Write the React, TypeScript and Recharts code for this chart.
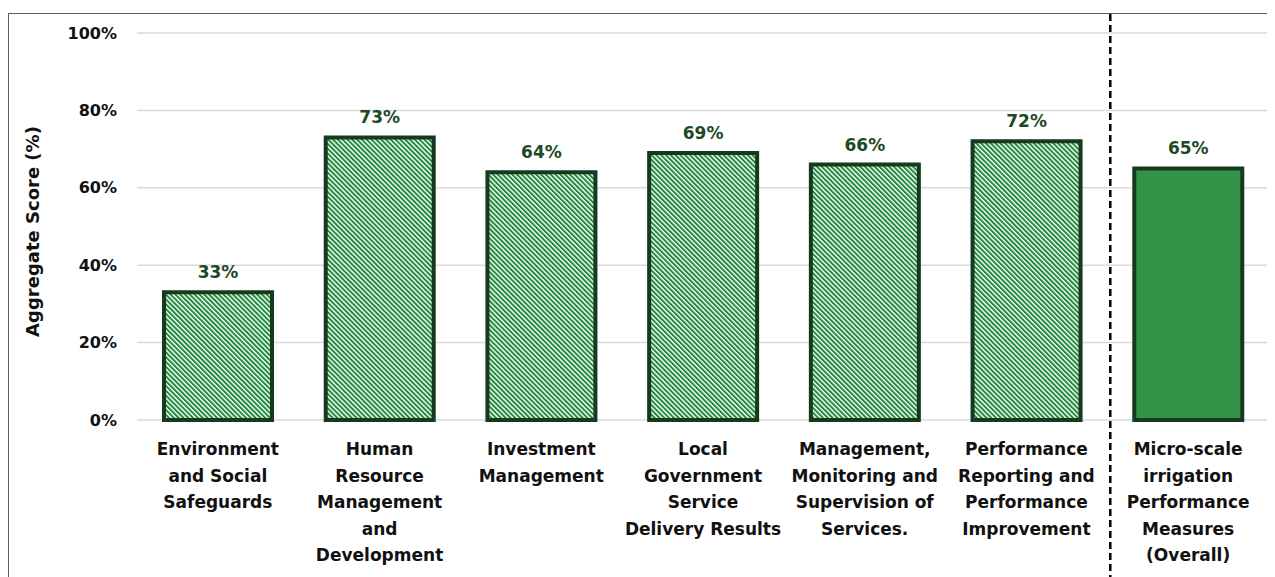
import React from 'react';
import { BarChart, Bar, XAxis, YAxis, CartesianGrid, Cell, LabelList, ReferenceLine } from 'recharts';

const categories = [
  'Environment\nand Social\nSafeguards',
  'Human\nResource\nManagement\nand\nDevelopment',
  'Investment\nManagement',
  'Local\nGovernment\nService\nDelivery Results',
  'Management,\nMonitoring and\nSupervision of\nServices.',
  'Performance\nReporting and\nPerformance\nImprovement',
  'Micro-scale\nirrigation\nPerformance\nMeasures\n(Overall)',
];
const scores = [33, 73, 64, 69, 66, 72, 65];
const yTicks = [0, 20, 40, 60, 80, 100];

const chartData = categories.map((name, i) => ({ name, score: scores[i] }));
const overallName = categories[categories.length - 1];

const XTick = (props: any) => {
  const { x, y, payload } = props;
  const lines = String(payload.value).split('\n');
  return (
    <text x={x} y={y} textAnchor="middle" fill="#111" fontSize={17} fontWeight="bold">
      {lines.map((ln, i) => (
        <tspan key={i} x={x} dy={i === 0 ? 35 : 26.5}>{ln}</tspan>
      ))}
    </text>
  );
};

const YTitle = (props: any) => {
  const vb = props.viewBox || { x: 0, y: 19, width: 128, height: 387 };
  const cx = vb.x + 23;
  const cy = vb.y + vb.height / 2 + 5;
  return (
    <text x={cx} y={cy} transform={`rotate(-90, ${cx}, ${cy})`} textAnchor="middle"
      dominantBaseline="central" fill="#111" fontSize={18} fontWeight="bold">
      Aggregate Score (%)
    </text>
  );
};

// dashed separator before the overall bar, stretched to the frame top and chart bottom
const Divider = (props: any) => {
  const { x1, y1, y2 } = props;
  const top = Math.min(y1, y2);
  const bottom = Math.max(y1, y2);
  return <line x1={x1 + 3} x2={x1 + 3} y1={top - 19} y2={bottom + 157} stroke="#000" strokeWidth={2.5} strokeDasharray="7 4" />;
};

export default function App() {
  return (
    <div style={{ paddingTop: 5 }}>
      <div style={{ borderTop: '1px solid #5f5f5f', borderLeft: '1px solid #5f5f5f', width: 1266, height: 563, fontFamily: '"DejaVu Sans", sans-serif' }}>
        <BarChart width={1266} height={563} data={chartData} margin={{ top: 19, right: 6, bottom: 0, left: 0 }}>
          <defs>
            <pattern id="hatch" width="3.4" height="3.4" patternUnits="userSpaceOnUse" patternTransform="rotate(-45)">
              <rect width="3.4" height="3.4" fill="#ffffff" />
              <rect width="2" height="3.4" fill="#1d8a3c" />
            </pattern>
          </defs>
          <CartesianGrid vertical={false} stroke="#d9d9d9" strokeWidth={1.5} />
          <XAxis dataKey="name" axisLine={false} tickLine={false} tickSize={0} tickMargin={0}
            height={157} interval={0} tick={<XTick />} />
          <YAxis domain={[0, 100]} ticks={yTicks} width={128} axisLine={false} tickLine={false}
            tickSize={0} tickMargin={20} tickFormatter={(v) => `${v}%`}
            tick={{ fill: '#111', fontSize: 16, fontWeight: 'bold' }}
            label={{ content: (p: any) => <YTitle {...p} /> }} />
          <ReferenceLine x={overallName} position="start" ifOverflow="visible" shape={(p: any) => <Divider {...p} />} />
          <Bar dataKey="score" barSize={108} stroke="#17391d" strokeWidth={4} isAnimationActive={false}>
            {chartData.map((d, i) => (
              <Cell key={d.name} fill={i === chartData.length - 1 ? '#339447' : 'url(#hatch)'} />
            ))}
            <LabelList dataKey="score" position="top" offset={14} formatter={(v: any) => `${v}%`}
              fill="#1d4a26" fontSize={17} fontWeight="bold" />
          </Bar>
        </BarChart>
      </div>
    </div>
  );
}
